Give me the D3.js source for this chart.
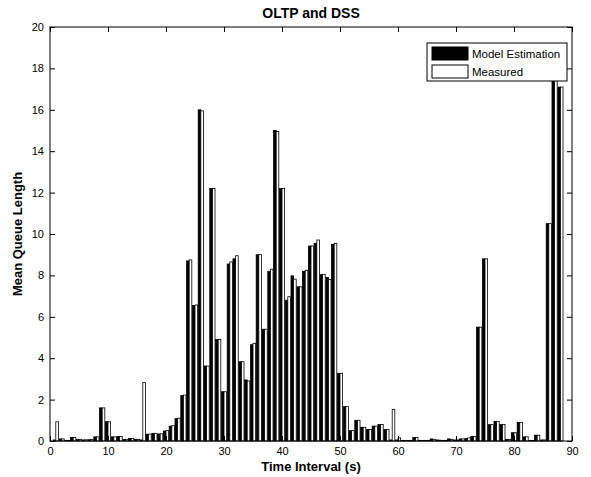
<!DOCTYPE html>
<html>
<head>
<meta charset="utf-8">
<script src="https://cdn.jsdelivr.net/npm/d3@7"></script>
<style>
  body { margin: 0; background: #fff; }
  text { font-family: "Liberation Sans", Arial, Helvetica, sans-serif; }
</style>
</head>
<body>
<div id="chart"></div>
<script>
const width = 591, height = 477;
const margin = {left: 50, right: 19, top: 27, bottom: 36}; // plot box 50..572 x 27..441

// ---- data ----
const intervals = [1,2,3,4,5,6,7,8,9,10,11,12,13,14,15,16,17,18,19,20,21,22,23,24,25,26,27,28,29,30,
  31,32,33,34,35,36,37,38,39,40,41,42,43,44,45,46,47,48,49,50,51,52,53,54,55,56,57,58,59,60,
  61,62,63,64,65,66,67,68,69,70,71,72,73,74,75,76,77,78,79,80,81,82,83,84,85,86,87,88];

// Model Estimation (black bars)
const modelEst = [0.05,0.1,0.03,0.17,0.08,0.05,0.06,0.2,1.6,0.93,
  0.2,0.22,0.08,0.12,0.08,0.05,0.33,0.37,0.34,0.48,
  0.72,1.08,2.2,8.7,6.55,16.0,3.62,12.2,4.9,2.38,
  8.55,8.8,3.83,2.95,4.65,9.0,5.4,8.2,15.0,12.2,
  6.8,7.98,7.45,8.2,9.42,9.55,8.05,7.9,9.5,3.27,
  1.66,0.5,1.0,0.66,0.56,0.72,0.8,0.56,0.05,0.05,
  0.03,0.03,0.17,0.03,0.03,0.1,0.05,0.03,0.1,0.05,
  0.1,0.12,0.22,5.5,8.8,0.79,0.95,0.8,0.08,0.4,
  0.9,0.2,0.03,0.28,0.05,10.5,18.6,17.1];

// Measured (white bars)
const measured = [0.93,0.1,0.03,0.17,0.08,0.06,0.07,0.2,1.6,0.93,
  0.2,0.22,0.08,0.12,0.08,2.82,0.33,0.37,0.35,0.5,
  0.74,1.1,2.22,8.75,6.57,15.95,3.62,12.2,4.91,2.38,
  8.65,8.95,3.83,2.9,4.72,9.0,5.4,8.3,14.95,12.2,
  6.97,7.82,7.45,8.25,9.42,9.71,8.05,7.8,9.55,3.27,
  1.66,0.5,1.0,0.66,0.56,0.72,0.8,0.56,1.53,0.15,
  0.03,0.03,0.17,0.03,0.03,0.08,0.04,0.03,0.08,0.05,
  0.1,0.15,0.22,5.5,8.8,0.79,0.95,0.8,0.08,0.4,
  0.9,0.2,0.03,0.28,0.05,10.5,18.6,17.1];

const seriesNames = ['Model Estimation', 'Measured'];
const seriesFill = ['#000', '#fff'];
const xTicks = [0,10,20,30,40,50,60,70,80,90];
const yTicks = [0,2,4,6,8,10,12,14,16,18,20];

const svg = d3.select('#chart').append('svg')
  .attr('width', width)
  .attr('height', height);

const x = d3.scaleLinear().domain([0, 90]).range([margin.left, width - margin.right]);
const y = d3.scaleLinear().domain([0, 20]).range([height - margin.bottom, margin.top]);

const barW = 0.45; // each bar, in x units (black left, white right)

// ---- bars ----
const series = [modelEst, measured];
series.forEach((vals, s) => {
  svg.append('g').selectAll('rect')
    .data(intervals)
    .join('rect')
    .attr('x', (d, i) => x(d + (s === 0 ? -barW : 0)))
    .attr('width', x(barW) - x(0))
    .attr('y', (d, i) => y(vals[i]))
    .attr('height', (d, i) => y(0) - y(vals[i]))
    .style('fill', seriesFill[s])
    .style('stroke', '#000')
    .style('stroke-width', 0.8);
});

// ---- axes (MATLAB style: ticks inside, box on) ----
const tickLen = 5;
const axBottom = svg.append('g')
  .attr('transform', `translate(0,${y(0)})`)
  .call(d3.axisBottom(x).tickValues(xTicks).tickSizeInner(-tickLen).tickSizeOuter(0).tickPadding(6));
const axTop = svg.append('g')
  .attr('transform', `translate(0,${y(20)})`)
  .call(d3.axisTop(x).tickValues(xTicks).tickSizeInner(-tickLen).tickSizeOuter(0).tickFormat(''));
const axLeft = svg.append('g')
  .attr('transform', `translate(${x(0)},0)`)
  .call(d3.axisLeft(y).tickValues(yTicks).tickSizeInner(-tickLen).tickSizeOuter(0).tickPadding(6));
const axRight = svg.append('g')
  .attr('transform', `translate(${x(90)},0)`)
  .call(d3.axisRight(y).tickValues(yTicks).tickSizeInner(-tickLen).tickSizeOuter(0).tickFormat(''));

[axBottom, axTop, axLeft, axRight].forEach(g => {
  g.select('.domain').remove();
  g.selectAll('line').style('stroke', '#000');
  g.selectAll('text').style('font-size', '11px').style('fill', '#000')
    .style('font-family', '"Liberation Sans", Arial, sans-serif');
});

// plot box
svg.append('rect')
  .attr('x', x(0)).attr('y', y(20))
  .attr('width', x(90) - x(0)).attr('height', y(0) - y(20))
  .style('fill', 'none').style('stroke', '#000').style('stroke-width', 1);

// ---- titles ----
svg.append('text')
  .attr('x', (x(0) + x(90)) / 2).attr('y', 18)
  .attr('text-anchor', 'middle')
  .style('font-size', '14px').style('font-weight', 'bold')
  .text('OLTP and DSS');

svg.append('text')
  .attr('x', (x(0) + x(90)) / 2).attr('y', 471)
  .attr('text-anchor', 'middle')
  .style('font-size', '13px').style('font-weight', 'bold')
  .text('Time Interval (s)');

svg.append('text')
  .attr('transform', `translate(22,${(y(0) + y(20)) / 2})rotate(-90)`)
  .attr('text-anchor', 'middle')
  .style('font-size', '13px').style('font-weight', 'bold')
  .text('Mean Queue Length');

// ---- legend ----
const legend = svg.append('g').attr('transform', 'translate(427,43)');
legend.append('rect')
  .attr('width', 140).attr('height', 38)
  .style('fill', '#fff').style('stroke', '#000').style('stroke-width', 1);
seriesNames.forEach((name, i) => {
  legend.append('rect')
    .attr('x', 5).attr('y', 4 + i * 18)
    .attr('width', 36).attr('height', 13)
    .style('fill', seriesFill[i]).style('stroke', '#000').style('stroke-width', 1);
  legend.append('text')
    .attr('x', 45).attr('y', 15 + i * 18)
    .style('font-size', '11.5px')
    .text(name);
});
</script>
</body>
</html>
